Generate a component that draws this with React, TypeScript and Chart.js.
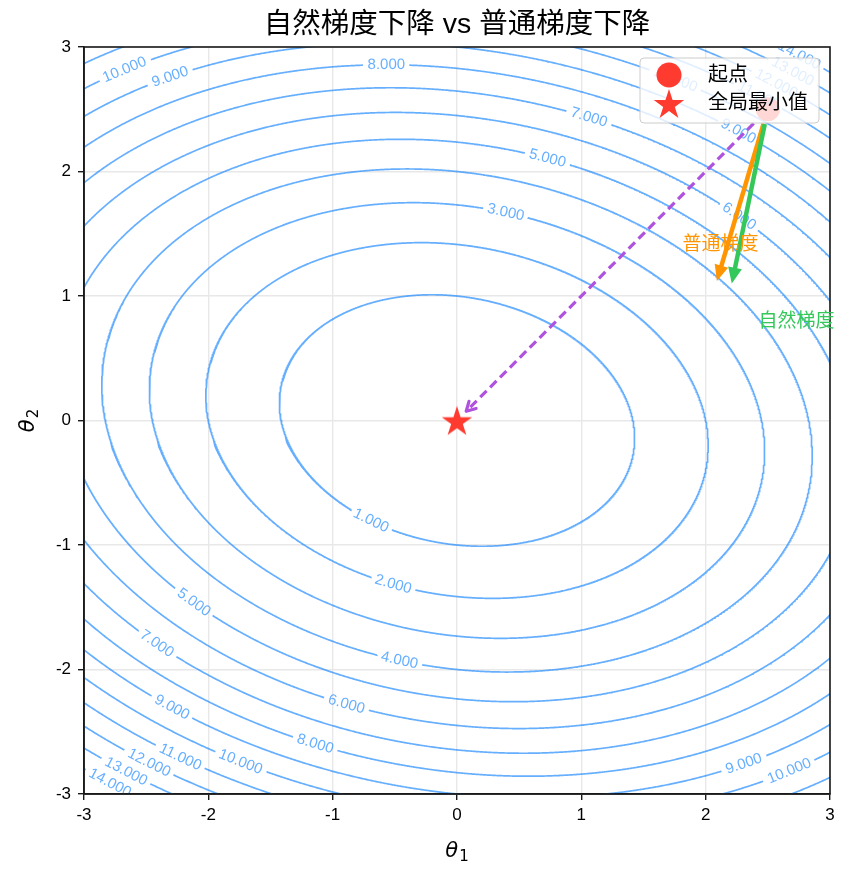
import React, { useEffect, useRef } from 'react';
import { Chart, registerables } from 'chart.js';

Chart.register(...registerables);

// ---------------- data ----------------
const TITLE = '自然梯度下降 vs 普通梯度下降';
const X_TICKS = [-3, -2, -1, 0, 1, 2, 3];
const Y_TICKS = [-3, -2, -1, 0, 1, 2, 3];
// loss f(θ) = 0.5 θᵀ A θ
const MATRIX_A = [
  [1.0, 0.2],
  [0.2, 2.0],
];
const CONTOUR_LEVELS = [1, 2, 3, 4, 5, 6, 7, 8, 9, 10, 11, 12, 13, 14];
// inline contour labels: level and approximate anchor (θ1, θ2)
const LABEL_LEVELS = [1, 2, 3, 4, 5, 5, 6, 6, 7, 7, 8, 8, 9, 9, 9, 9, 10, 10, 10, 10, 11, 11, 12, 12, 13, 13, 14, 14];
const LABEL_T1 = [-0.68, -0.51, 0.39, -0.46, 0.72, -2.09, 2.25, -0.88, 1.05, -2.39, -0.57, -1.13, -2.33, 2.24, -2.26, 2.32, -2.70, 1.74, -1.72, 2.69, -2.20, 2.44, -2.45, 2.56, -2.62, 2.68, -2.76, 2.73];
const LABEL_T2 = [-0.78, -1.30, 1.66, -1.92, 2.09, -1.43, 1.61, -2.26, 2.40, -1.75, 2.87, -2.57, 2.82, 2.28, -2.24, -2.81, 2.87, 2.69, -2.70, -2.86, -2.65, 2.65, -2.70, 2.69, -2.75, 2.77, -2.86, 2.88];

const START_POINT = [2.5, 2.5];
const GLOBAL_MIN = [0, 0];
const GRAD_END = [2.09, 1.12]; // 普通梯度 arrow tip
const NAT_END = [2.21, 1.1]; // 自然梯度 arrow tip
const PATH_END = [0, 0]; // dashed path tip
const GRAD_TEXT_POS = [2.12, 1.41];
const NAT_TEXT_POS = [2.73, 0.79];
const GRAD_TEXT = '普通梯度';
const NAT_TEXT = '自然梯度';
const LEGEND_LABELS = ['起点', '全局最小值'];

// ---------------- styles ----------------
const FONT = '"Liberation Sans", "Noto Sans CJK SC", sans-serif';
const CONTOUR_COLOR = 'rgba(0,122,255,0.6)';
const RED = '#FF3B30';
const ORANGE = '#FF9500';
const GREEN = '#34C759';
const PURPLE = '#AF52DE';
const LABEL_FONT = `15px ${FONT}`;
const PX_X = 124.33;
const PX_Y = 124.5;

function drawStarPath(ctx: CanvasRenderingContext2D, cx: number, cy: number, R: number) {
  const r = R * 0.382;
  ctx.beginPath();
  for (let i = 0; i < 10; i++) {
    const rad = i % 2 === 0 ? R : r;
    const a = -Math.PI / 2 + (i * Math.PI) / 5;
    const x = cx + rad * Math.cos(a);
    const y = cy + rad * Math.sin(a);
    if (i === 0) ctx.moveTo(x, y);
    else ctx.lineTo(x, y);
  }
  ctx.closePath();
}

function makeStarImage(R: number, color: string) {
  const c = document.createElement('canvas');
  const s = Math.ceil(2 * R + 2);
  c.width = s;
  c.height = s;
  const ctx = c.getContext('2d')!;
  ctx.fillStyle = color;
  drawStarPath(ctx, s / 2, s / 2 + R * 0.1, R);
  ctx.fill();
  return c;
}

function ellipse(level: number, n: number) {
  const pts: { x: number; y: number | null }[] = [];
  for (let i = 0; i < n; i++) {
    const t = (2 * Math.PI * i) / n;
    const c = Math.cos(t);
    const s = Math.sin(t);
    const q = MATRIX_A[0][0] * c * c + 2 * MATRIX_A[0][1] * c * s + MATRIX_A[1][1] * s * s;
    const r = Math.sqrt((2 * level) / q);
    pts.push({ x: r * c, y: r * s });
  }
  return pts;
}

function drawArrow(
  ctx: CanvasRenderingContext2D,
  x0: number, y0: number, x1: number, y1: number,
  o: { color: string; width: number; dash?: number[]; shrinkA: number; shrinkB: number; head: 'fill' | 'open'; hl: number; hw: number }
) {
  const dx = x1 - x0, dy = y1 - y0;
  const len = Math.hypot(dx, dy);
  const ux = dx / len, uy = dy / len;
  const nx = -uy, ny = ux;
  const sx = x0 + ux * o.shrinkA, sy = y0 + uy * o.shrinkA;
  const ex = x1 - ux * o.shrinkB, ey = y1 - uy * o.shrinkB;
  ctx.save();
  ctx.strokeStyle = o.color;
  ctx.fillStyle = o.color;
  ctx.lineWidth = o.width;
  ctx.lineCap = 'butt';
  ctx.setLineDash(o.dash || []);
  ctx.beginPath();
  ctx.moveTo(sx, sy);
  const stopBack = o.head === 'fill' ? o.hl * 0.7 : o.width * 0.3;
  ctx.lineTo(ex - ux * stopBack, ey - uy * stopBack);
  ctx.stroke();
  ctx.setLineDash([]);
  const bx = ex - ux * o.hl, by = ey - uy * o.hl;
  if (o.head === 'fill') {
    ctx.lineJoin = 'miter';
    ctx.beginPath();
    ctx.moveTo(ex, ey);
    ctx.lineTo(bx + nx * o.hw, by + ny * o.hw);
    ctx.lineTo(bx - nx * o.hw, by - ny * o.hw);
    ctx.closePath();
    ctx.fill();
  } else {
    ctx.lineJoin = 'round';
    ctx.lineCap = 'round';
    ctx.beginPath();
    ctx.moveTo(bx + nx * o.hw, by + ny * o.hw);
    ctx.lineTo(ex, ey);
    ctx.lineTo(bx - nx * o.hw, by - ny * o.hw);
    ctx.stroke();
  }
  ctx.restore();
}

export default function App() {
  const ref = useRef<HTMLCanvasElement>(null);

  useEffect(() => {
    const canvas = ref.current!;
    const mctx = canvas.getContext('2d')!;
    mctx.font = LABEL_FONT;

    const N = 2400;
    const contourData = CONTOUR_LEVELS.map((L) => ellipse(L, N));
    const labels: { x: number; y: number; tx: number; ty: number; text: string }[] = [];

    LABEL_LEVELS.forEach((L, k) => {
      const li = CONTOUR_LEVELS.indexOf(L);
      const base = ellipse(L, N);
      const ax = LABEL_T1[k], ay = LABEL_T2[k];
      let best = 0, bd = Infinity;
      base.forEach((p, i) => {
        const d = Math.hypot((p.x - ax) * PX_X, ((p.y as number) - ay) * PX_Y);
        if (d < bd) { bd = d; best = i; }
      });
      const p = base[best];
      const pPrev = base[(best - 1 + N) % N];
      const pNext = base[(best + 1) % N];
      const text = L.toFixed(3);
      labels.push({ x: p.x, y: p.y as number, tx: pNext.x - pPrev.x, ty: (pNext.y as number) - (pPrev.y as number), text });
      const half = mctx.measureText(text).width / 2 + 4;
      const data = contourData[li];
      base.forEach((q, i) => {
        const d = Math.hypot((q.x - p.x) * PX_X, ((q.y as number) - (p.y as number)) * PX_Y);
        if (d < half) data[i].y = null;
      });
    });
    // close ellipses
    contourData.forEach((d) => d.push({ x: d[0].x, y: d[0].y }));

    const starImg = makeStarImage(16, RED);

    const contourDatasets = contourData.map((d, i) => ({
      type: 'scatter' as const,
      label: `c${CONTOUR_LEVELS[i]}`,
      data: d,
      showLine: true,
      spanGaps: false,
      borderColor: CONTOUR_COLOR,
      borderWidth: 1.7,
      pointRadius: 0,
      pointHoverRadius: 0,
      tension: 0,
      order: 10,
    }));

    const overlay = {
      id: 'overlay',
      afterDatasetsDraw(chart: any) {
        const ctx: CanvasRenderingContext2D = chart.ctx;
        const xs = chart.scales.x, ys = chart.scales.y;
        const ca = chart.chartArea;
        // contour labels
        ctx.save();
        ctx.beginPath();
        ctx.rect(ca.left, ca.top, ca.right - ca.left, ca.bottom - ca.top);
        ctx.clip();
        ctx.font = LABEL_FONT;
        ctx.fillStyle = CONTOUR_COLOR;
        ctx.textAlign = 'center';
        ctx.textBaseline = 'middle';
        labels.forEach((l) => {
          const px = xs.getPixelForValue(l.x), py = ys.getPixelForValue(l.y);
          const dx = xs.getPixelForValue(l.x + l.tx) - px;
          const dy = ys.getPixelForValue(l.y + l.ty) - py;
          let a = Math.atan2(dy, dx);
          if (a > Math.PI / 2) a -= Math.PI;
          if (a < -Math.PI / 2) a += Math.PI;
          ctx.save();
          ctx.translate(px, py);
          ctx.rotate(a);
          ctx.fillText(l.text, 0, 0);
          ctx.restore();
        });
        ctx.restore();

        const sx = xs.getPixelForValue(START_POINT[0]), sy = ys.getPixelForValue(START_POINT[1]);
        drawArrow(ctx, sx, sy, xs.getPixelForValue(PATH_END[0]), ys.getPixelForValue(PATH_END[1]), {
          color: PURPLE, width: 3.2, dash: [9, 5], shrinkA: 20, shrinkB: 13, head: 'open', hl: 9, hw: 5,
        });
        drawArrow(ctx, sx, sy, xs.getPixelForValue(GRAD_END[0]), ys.getPixelForValue(GRAD_END[1]), {
          color: ORANGE, width: 4.5, shrinkA: 15, shrinkB: 0, head: 'fill', hl: 16, hw: 7,
        });
        drawArrow(ctx, sx, sy, xs.getPixelForValue(NAT_END[0]), ys.getPixelForValue(NAT_END[1]), {
          color: GREEN, width: 4.5, shrinkA: 15, shrinkB: 0, head: 'fill', hl: 16, hw: 7,
        });
      },
      afterDraw(chart: any) {
        const ctx: CanvasRenderingContext2D = chart.ctx;
        const xs = chart.scales.x, ys = chart.scales.y;
        const ca = chart.chartArea;
        ctx.save();
        // frame
        ctx.strokeStyle = '#1a1a1a';
        ctx.lineWidth = 1.6;
        ctx.strokeRect(ca.left, ca.top, ca.right - ca.left, ca.bottom - ca.top);

        // annotations text
        ctx.textAlign = 'center';
        ctx.textBaseline = 'middle';
        ctx.font = `19px ${FONT}`;
        ctx.fillStyle = ORANGE;
        ctx.fillText(GRAD_TEXT, xs.getPixelForValue(GRAD_TEXT_POS[0]), ys.getPixelForValue(GRAD_TEXT_POS[1]));
        ctx.fillStyle = GREEN;
        ctx.fillText(NAT_TEXT, xs.getPixelForValue(NAT_TEXT_POS[0]), ys.getPixelForValue(NAT_TEXT_POS[1]));

        // title
        ctx.fillStyle = '#000';
        ctx.font = `28.5px ${FONT}`;
        ctx.textBaseline = 'alphabetic';
        ctx.fillText(TITLE, (ca.left + ca.right) / 2, 33);

        // axis titles
        const mx = (ca.left + ca.right) / 2;
        const drawTheta = (sub: string) => {
          ctx.font = `italic 21px "DejaVu Sans", ${FONT}`;
          const w1 = ctx.measureText('θ').width;
          ctx.font = `15px "DejaVu Sans", ${FONT}`;
          const w2 = ctx.measureText(sub).width;
          const tot = w1 + w2 + 1;
          ctx.textAlign = 'left';
          ctx.font = `italic 21px "DejaVu Sans", ${FONT}`;
          ctx.fillText('θ', -tot / 2, 7);
          ctx.font = `15px "DejaVu Sans", ${FONT}`;
          ctx.fillText(sub, -tot / 2 + w1 + 1, 11);
        };
        ctx.save();
        ctx.translate(mx, 850);
        drawTheta('1');
        ctx.restore();
        ctx.save();
        ctx.translate(27, (ca.top + ca.bottom) / 2);
        ctx.rotate(-Math.PI / 2);
        drawTheta('2');
        ctx.restore();

        // legend
        const bw = 179, bh = 65;
        const bx = ca.right - 11 - bw, by = ca.top + 11;
        ctx.beginPath();
        const rr = 4;
        ctx.moveTo(bx + rr, by);
        ctx.arcTo(bx + bw, by, bx + bw, by + bh, rr);
        ctx.arcTo(bx + bw, by + bh, bx, by + bh, rr);
        ctx.arcTo(bx, by + bh, bx, by, rr);
        ctx.arcTo(bx, by, bx + bw, by, rr);
        ctx.closePath();
        ctx.fillStyle = 'rgba(255,255,255,0.8)';
        ctx.fill();
        ctx.strokeStyle = '#cccccc';
        ctx.lineWidth = 1;
        ctx.stroke();
        ctx.fillStyle = RED;
        ctx.beginPath();
        ctx.arc(bx + 29, by + 17, 12.5, 0, Math.PI * 2);
        ctx.fill();
        drawStarPath(ctx, bx + 29, by + 47, 16);
        ctx.fill();
        ctx.fillStyle = '#000';
        ctx.font = `20px ${FONT}`;
        ctx.textAlign = 'left';
        ctx.textBaseline = 'middle';
        ctx.fillText(LEGEND_LABELS[0], bx + 68, by + 17);
        ctx.fillText(LEGEND_LABELS[1], bx + 68, by + 45);
        ctx.restore();
      },
    };

    const chart = new Chart(canvas, {
      type: 'scatter',
      data: {
        datasets: [
          {
            label: LEGEND_LABELS[0],
            data: [{ x: START_POINT[0], y: START_POINT[1] }],
            pointRadius: 12,
            pointHoverRadius: 12,
            backgroundColor: RED,
            borderWidth: 0,
            order: 0,
          } as any,
          {
            label: LEGEND_LABELS[1],
            data: [{ x: GLOBAL_MIN[0], y: GLOBAL_MIN[1] }],
            pointStyle: starImg,
            pointRadius: 16,
            backgroundColor: RED,
            borderWidth: 0,
            order: 0,
          } as any,
          ...contourDatasets,
        ],
      },
      options: {
        responsive: false,
        animation: false,
        events: [],
        layout: { padding: { top: 47, right: 23, left: 0, bottom: 0 } },
        plugins: { legend: { display: false }, tooltip: { enabled: false }, title: { display: false } },
        scales: {
          x: {
            type: 'linear',
            min: -3,
            max: 3,
            afterBuildTicks: (s: any) => { s.ticks = X_TICKS.map((v) => ({ value: v })); },
            afterFit: (s: any) => { s.height = 84; },
            grid: { color: '#e8e8e8', lineWidth: 1.4, drawTicks: true, tickLength: 6, tickColor: '#1a1a1a', tickWidth: 1.4 },
            border: { display: true, color: '#1a1a1a', width: 1.6 },
            ticks: { color: '#000', font: { family: FONT, size: 17 }, padding: 5, maxRotation: 0, callback: (v: any) => String(v) },
          },
          y: {
            type: 'linear',
            min: -3,
            max: 3,
            afterBuildTicks: (s: any) => { s.ticks = Y_TICKS.map((v) => ({ value: v })); },
            afterFit: (s: any) => { s.width = 84; },
            grid: { color: '#e8e8e8', lineWidth: 1.4, drawTicks: true, tickLength: 6, tickColor: '#1a1a1a', tickWidth: 1.4 },
            border: { display: true, color: '#1a1a1a', width: 1.6 },
            ticks: { color: '#000', font: { family: FONT, size: 17 }, padding: 7, callback: (v: any) => String(v) },
          },
        },
      } as any,
      plugins: [overlay],
    });

    return () => chart.destroy();
  }, []);

  return (
    <div style={{ position: 'fixed', left: 0, top: 0, width: 853, height: 878, background: '#fff' }}>
      <canvas ref={ref} width={853} height={878} style={{ display: 'block' }} />
    </div>
  );
}
